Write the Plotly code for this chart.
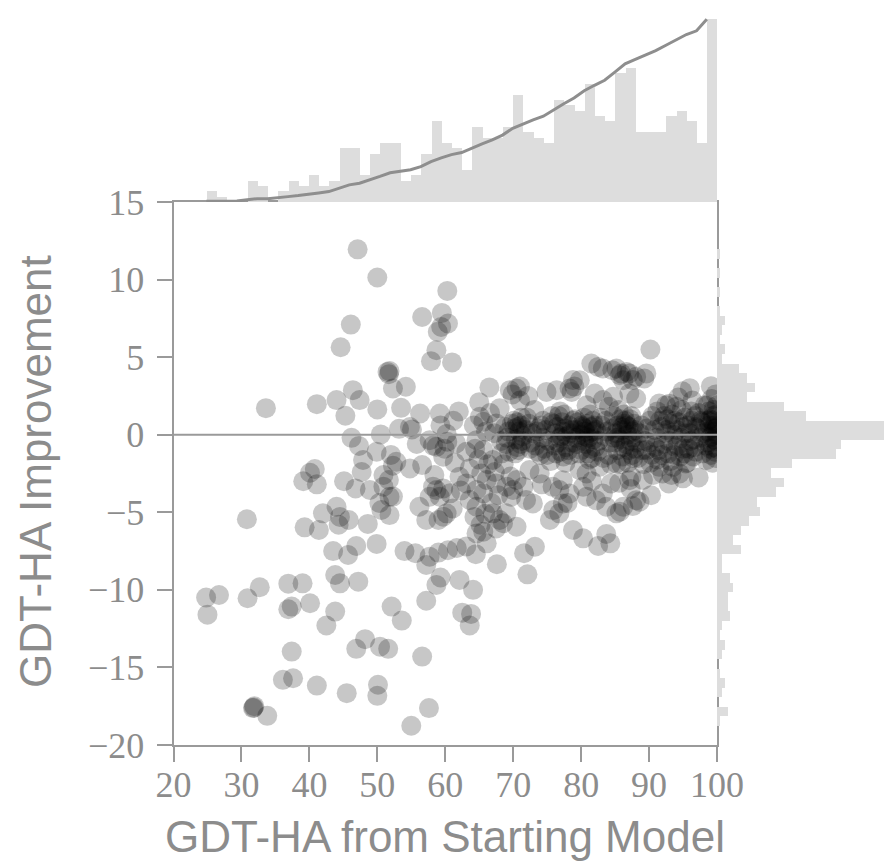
import plotly.graph_objects as go

# ---------------- data ----------------
# (GDT-HA of starting model, GDT-HA improvement)
points_low = [
    (33.6, 1.71), (41.1, 1.97), (40.8, -2.21), (40.1, -2.45), (39.1, -3.0), (41.1, -3.2),
    (30.8, -5.45), (42.0, -5.07), (39.3, -5.97), (41.4, -6.14), (36.9, -9.6), (39.0, -9.58),
    (32.7, -9.83), (30.9, -10.54), (26.7, -10.33), (24.8, -10.5), (25.0, -11.6), (36.9, -11.25),
    (37.4, -11.08), (40.1, -10.86), (42.5, -12.3), (37.4, -13.98), (36.1, -15.8), (37.6, -15.7),
    (41.1, -16.17), (31.8, -17.58), (31.9, -17.5), (31.7, -17.62), (33.8, -18.12),
]
points_mid = [
    (47.1, 11.95), (50.0, 10.13), (46.1, 7.1), (44.6, 5.64), (51.5, 4.05), (51.7, 3.9), (51.8, 4.1),
    (46.4, 2.87), (44.0, 2.23), (47.4, 2.23), (45.3, 1.22), (50.0, 1.63), (50.5, 0.02), (46.2, -0.2),
    (47.3, -0.72), (49.9, -1.1), (47.9, -1.63), (47.7, -2.4), (45.1, -3.0), (46.8, -3.46),
    (48.9, -3.56), (50.9, -3.35), (50.9, -2.6), (51.7, -2.92), (50.3, -4.4), (50.6, -4.85),
    (51.8, -5.18), (44.0, -4.64), (44.5, -5.3), (44.3, -5.8), (45.8, -5.5), (48.6, -5.75),
    (43.5, -7.5), (45.7, -7.75), (46.9, -7.17), (49.9, -7.04), (43.8, -9.04), (44.5, -9.58),
    (47.2, -9.47), (43.8, -11.4), (48.2, -13.18), (46.9, -13.8), (50.4, -13.66), (51.6, -13.8),
    (45.5, -16.66), (50.1, -16.12), (50.0, -16.83), (51.8, -4.0),
    (52.0, -1.3), (52.8, -1.75), (52.3, -2.0), (52.3, 2.98), (54.2, 3.09), (53.5, 1.73),
    (53.2, 0.38), (55.1, 0.34), (52.1, -11.08), (53.6, -11.98), (52.3, -3.99), (56.6, 7.59),
    (59.5, 7.85), (60.3, 9.27), (58.9, 6.63), (59.4, 6.95), (60.4, 7.17), (58.7, 5.45),
    (57.9, 4.74), (56.3, 1.37), (59.2, 1.37), (54.8, 0.5), (55.8, -0.6), (57.7, -0.35),
    (58.7, -0.78), (60.2, 0.05), (59.9, -0.9), (54.8, -2.17), (56.6, -1.96), (59.7, -1.42),
    (58.2, -3.35), (59.7, -3.46), (59.2, -4.0), (57.7, -4.0), (56.2, -4.64), (57.2, -5.5),
    (59.7, -5.28), (60.2, -5.07), (54.0, -7.5), (55.6, -7.64), (57.7, -7.86), (57.2, -8.4),
    (59.0, -7.6), (60.4, -7.45), (57.2, -10.7), (58.7, -9.68), (59.3, -9.2), (56.6, -14.3),
    (57.6, -17.62), (55.0, -18.76), (58.7, -3.57), (60.7, -3.78), (60.3, -0.45), (58.2, -0.7),
    (59.0, -5.5), (58.4, -2.6), (59.3, 0.6),
]
points_high = [
    (61.0, 4.66), (61.2, 0.9), (61.6, -0.56), (62.1, -2.71), (61.1, -4.75), (61.7, -7.3),
    (62.1, -9.36), (61.4, -1.8), (62.0, 1.5), (62.3, -3.6),
    (63.1, -1.1), (63.6, -2.17), (63.1, -3.14), (63.6, -4.21), (62.5, -11.47), (63.8, -11.55),
    (63.6, -12.3), (63.1, -7.2),
    (65.1, 1.16), (64.6, -0.35), (64.6, -3.56), (64.6, -4.64), (64.6, -6.36), (64.1, -10.0),
    (64.5, -7.7), (64.2, 0.6), (64.9, -1.6), (65.3, -2.5), (64.3, -5.3), (65.0, 2.1),
    (64.4, -0.9), (65.2, -5.8),
    (65.6, 0.83), (66.5, 3.05), (65.6, -0.99), (66.1, -2.92), (65.6, -3.78), (65.6, -6.25),
    (66.1, -7.0), (66.3, -1.9), (66.0, 0.2), (66.8, -4.4), (65.9, -5.1), (66.6, 1.4),
    (67.5, 0.73), (67.0, -1.63), (67.5, -3.14), (67.0, -5.07), (68.0, -5.5), (67.5, -6.04),
    (67.6, -8.35), (68.2, -0.4), (67.3, -2.4), (68.0, 1.7), (67.8, -3.9), (68.3, -1.2), (67.2, 0.1),
    (69.5, 2.87), (69.7, -4.0), (69.0, -3.35), (69.0, -5.07), (68.5, -5.71), (69.1, -0.2),
    (68.8, 0.5), (69.4, -1.1), (68.6, -1.9), (69.8, 0.7), (69.3, 0.2), (68.9, -0.6),
    (69.6, -2.7), (69.9, 2.6),
    (70.5, 2.98), (70.0, -3.56), (70.5, -2.92), (70.5, -5.93), (71.0, 3.1), (71.0, 2.2),
    (70.2, 0.4), (70.6, 0.8), (70.9, 0.2), (71.2, 0.6), (70.4, -0.3), (71.1, -0.6), (70.7, 0.5),
    (70.3, -1.2), (71.3, -0.4), (70.8, -1.0), (71.2, 1.1), (70.1, 0.9), (71.4, -0.1), (70.6, -0.8),
    (71.5, -3.35), (71.9, -4.21), (72.1, -9.0), (71.6, -7.64), (72.4, -2.28), (72.9, -4.43),
    (71.8, 0.3), (72.3, 0.7), (72.6, -0.5), (72.0, 1.1), (72.8, 0.1), (72.5, -0.9), (72.2, 2.5),
    (73.2, -7.22), (73.9, -2.5), (73.5, 0.2), (74.1, 0.6), (73.3, -0.7), (74.0, -1.3),
    (73.7, 0.4), (74.3, -0.2), (73.1, 1.6), (74.2, -3.2), (73.6, -1.1), (74.4, 0.9),
    (74.9, 2.76), (75.4, -5.5), (75.9, -4.86), (75.8, -3.36), (74.8, 0.3), (75.2, -0.4),
    (75.6, 0.8), (75.0, -1.3), (75.5, -1.7), (74.6, -0.9), (75.7, 1.2),
    (76.4, 2.87), (76.8, -3.57), (77.3, -2.93), (77.3, -4.43), (76.8, -5.07), (76.2, 0.1),
    (76.5, 0.5), (76.9, -0.2), (77.2, 0.8), (76.1, -0.7), (76.7, 1.2), (77.0, -1.1), (77.4, 0.2),
    (76.3, -1.2), (76.9, 1.5), (77.1, -0.1), (76.6, -0.5), (77.4, -1.4), (76.0, 0.7),
    (78.8, 3.52), (78.6, 2.76), (78.3, 2.98), (78.3, -3.79), (78.8, -6.14), (77.6, 0.4),
    (77.9, -0.1), (78.2, 0.6), (78.5, 0.1), (78.9, 0.9), (77.8, -0.8), (78.4, -1.3), (78.7, -0.5),
    (77.5, 1.3), (78.1, -1.0), (78.6, 0.3), (77.7, -1.8), (78.0, -4.4),
    (79.8, 3.51), (79.0, 3.1), (79.8, -2.28), (80.3, -3.36), (80.3, -6.68), (79.2, 0.3),
    (79.5, 0.8), (79.9, 0.0), (80.2, 0.5), (79.4, -0.6), (80.0, -1.0), (79.1, 1.0), (80.4, 1.1),
    (79.6, -1.2), (80.1, 0.6), (79.3, -0.2), (80.4, -0.4),
    (81.5, 4.59), (80.8, -4.0), (80.8, -2.5), (81.6, -3.0), (80.6, 0.2), (80.9, 0.7), (81.2, 0.1),
    (81.5, 0.5), (81.8, -0.3), (80.7, -0.6), (81.0, -1.2), (81.3, 1.3), (81.7, 0.9), (80.5, 0.4),
    (81.1, -0.2), (81.4, -0.9), (81.9, 0.6), (80.8, 1.9), (81.6, -1.5), (81.2, -1.6), (80.6, -0.1),
    (81.9, 0.2),
    (82.5, 4.37), (83.2, 4.27), (82.0, 2.66), (83.2, 2.23), (82.5, -7.17), (83.2, -3.79),
    (82.2, -4.22), (82.7, -2.07), (82.2, 0.3), (82.6, -0.4), (83.0, 0.6), (83.4, -0.1),
    (82.4, -1.1), (82.9, 1.1), (83.3, -1.5), (82.1, -0.8),
    (84.1, 1.8), (84.7, 2.44), (84.6, 4.16), (83.7, -4.64), (84.4, -3.14), (84.3, -7.0),
    (83.7, -6.4), (83.8, 0.2), (84.2, -0.5), (84.6, 0.4), (84.0, -1.3), (84.9, -0.2), (83.6, 0.9),
    (84.4, -1.9), (84.8, 1.2),
    (85.2, 4.27), (85.7, 3.84), (86.2, 3.51), (85.9, 3.95), (85.2, -1.85), (86.2, -4.64),
    (85.2, -5.07), (85.7, -4.96), (85.1, 0.1), (85.4, 0.6), (85.7, -0.3), (86.0, 0.3),
    (86.3, -0.8), (85.3, -1.0), (85.8, 1.0), (86.1, -1.4), (85.5, 1.6), (86.4, 0.7), (85.0, -0.5),
    (85.9, -1.9), (86.3, 1.3), (85.6, -3.1), (86.0, 0.5), (85.4, -0.2),
    (86.7, 4.05), (87.1, 3.95), (87.6, 3.52), (87.1, 2.66), (87.1, -2.93), (87.4, -2.71),
    (87.6, -4.6), (86.8, 0.0), (87.0, 0.5), (87.3, -0.4), (87.6, 0.2), (87.9, -0.9), (86.6, -0.6),
    (87.2, 1.0), (87.5, -1.3), (87.8, 0.7), (86.9, -1.8), (87.4, 1.2), (87.7, -1.5), (86.5, 0.9),
    (87.0, -1.0), (87.9, 0.3), (86.7, 0.6), (87.3, -3.5), (87.6, -0.2),
    (88.1, 3.73), (89.3, 3.62), (88.1, 2.33), (89.1, -2.92), (88.6, -4.32), (88.1, -4.22),
    (88.2, -0.5), (88.6, 0.1), (89.0, -1.0), (89.4, -0.4), (88.4, -1.5), (88.9, 0.6), (89.2, -1.9),
    (89.6, 3.95), (90.2, 5.49), (90.5, 1.2), (90.3, -3.9), (90.6, -2.6), (90.1, 0.9),
    (89.6, -0.99), (90.0, -0.5), (90.4, -1.3), (90.8, 0.3), (89.7, 0.4), (90.2, -1.8), (90.9, -0.8),
    (91.5, 2.01), (91.2, 1.5), (91.5, -2.07), (91.1, -0.2), (91.4, -1.0), (91.8, 0.5), (92.1, -0.6),
    (92.4, 0.1), (91.2, -1.6), (91.9, -1.3), (92.2, 1.2), (91.6, 0.9), (92.0, -2.5),
    (92.5, 1.9), (93.0, 2.0), (92.9, -3.14), (93.5, -2.07), (92.6, 0.3), (92.9, -0.4), (93.2, 0.7),
    (93.6, 0.0), (93.9, -0.8), (92.8, -1.2), (93.4, 1.3), (93.1, -1.7), (93.8, 0.9), (92.7, 1.0),
    (93.7, -1.3), (93.3, -2.6),
    (94.0, 1.8), (94.5, -2.5), (95.0, -2.81), (95.4, -1.85), (94.1, 0.3), (94.4, 0.8), (94.7, -0.2),
    (95.0, 0.5), (95.3, 1.1), (94.2, -0.7), (94.8, 1.6), (95.1, -0.9), (94.6, -1.4), (95.4, 0.1),
    (94.3, 2.4), (94.9, 2.8), (95.2, -1.2),
    (96.0, 3.0), (95.7, 0.6), (96.0, 0.1), (96.3, 0.9), (96.6, -0.3), (96.9, 0.5), (95.8, -0.9),
    (96.2, 1.5), (96.5, -1.4), (96.8, 1.2), (95.6, -1.8), (96.4, 2.2), (96.7, -0.8), (96.1, -0.4),
    (96.9, -1.1),
    (97.3, -2.75), (97.1, 0.4), (97.5, -0.2), (97.8, 0.8), (98.1, 0.1), (98.4, -0.7), (97.3, 1.4),
    (97.9, -1.2), (98.2, 1.9), (97.6, 0.9), (98.4, -1.64),
    (98.6, 0.2), (98.9, 0.6), (99.2, -0.1), (99.5, 0.4), (99.8, 0.8), (100.0, 0.0), (98.7, -0.5),
    (99.0, 1.0), (99.3, 0.9), (99.6, -0.3), (99.9, 1.3), (98.8, 1.5), (99.4, -0.8), (99.7, 0.2),
    (100.0, -0.9), (99.1, -1.3), (98.6, 1.9), (99.5, 1.6), (99.8, -1.5), (99.2, 2.3), (100.0, 1.9),
    (98.9, -0.2), (99.6, 0.6), (99.3, -1.8), (99.9, 0.4), (98.7, 0.9), (99.4, 1.2), (100.0, 0.5),
    (99.0, -0.9), (99.7, -1.1), (99.9, -0.4), (99.1, 3.13), (99.8, 2.6),
]

# marginal histogram counts (50 bins each)
start_hist_counts = [2, 1, 0, 0, 4, 3, 0, 2, 4, 3, 5, 3, 4, 10, 10, 5, 9, 11, 11, 4,
                     5, 9, 15, 11, 10, 6, 14, 12, 12, 14, 20, 13, 12, 11, 19, 18, 17, 22, 16, 15,
                     24, 25, 13, 13, 13, 16, 17, 15, 11, 34]
start_hist_range = (24.83, 100.0)
improve_hist_counts = [1, 4, 0, 2, 3, 1, 0, 2, 3, 1, 2, 5, 4, 4, 6, 5, 2, 2, 9, 6,
                       9, 12, 16, 15, 22, 25, 20, 28, 44, 46, 62, 62, 33, 25, 11, 14, 11, 8, 2, 3,
                       1, 2, 3, 1, 0, 1, 0, 1, 0, 1]
improve_hist_range = (-18.76, 11.96)

x_ticks = [20, 30, 40, 50, 60, 70, 80, 90, 100]
y_ticks = [-20, -15, -10, -5, 0, 5, 10, 15]

# ---------------- figure ----------------
all_points = points_low + points_mid + points_high
xs = [p[0] for p in all_points]
ys = [p[1] for p in all_points]

W, H = 884, 861
main_x_dom = [173.5 / W, 717 / W]
right_x_dom = [717 / W, 1.0]
main_y_dom = [1 - 745 / H, 1 - 202 / H]
top_y_dom = [1 - 202 / H, 1 - 14 / H]

GRAY_TXT = "#8c8c8c"
GRAY_LINE = "#9a9a9a"
BAR = "#dddddd"

nx = len(start_hist_counts)
bw = (start_hist_range[1] - start_hist_range[0]) / nx
x_centers = [start_hist_range[0] + (i + 0.5) * bw for i in range(nx)]
x_left = [start_hist_range[0] + i * bw for i in range(nx)]
total = sum(start_hist_counts)
cum = []
s = 0
for c in start_hist_counts:
    s += c
    cum.append(s / total * max(start_hist_counts))

ny = len(improve_hist_counts)
bh = (improve_hist_range[1] - improve_hist_range[0]) / ny
y_centers = [improve_hist_range[0] + (i + 0.5) * bh for i in range(ny)]

fig = go.Figure()
fig.add_trace(go.Scatter(
    x=xs, y=ys, mode="markers", xaxis="x", yaxis="y",
    marker=dict(size=20, color="rgba(0,0,0,0.22)", line=dict(width=0)),
    showlegend=False, hoverinfo="skip"))
fig.add_trace(go.Bar(
    x=x_centers, y=start_hist_counts, width=bw, xaxis="x2", yaxis="y2",
    marker=dict(color=BAR, line=dict(width=0)), showlegend=False))
fig.add_trace(go.Scatter(
    x=x_left, y=cum, mode="lines", xaxis="x2", yaxis="y2",
    line=dict(color="#8e8e8e", width=3), showlegend=False))
fig.add_trace(go.Bar(
    y=y_centers, x=improve_hist_counts, width=bh, orientation="h", xaxis="x3", yaxis="y3",
    marker=dict(color=BAR, line=dict(width=0)), showlegend=False))

tickfont = dict(family="Liberation Serif", size=36, color=GRAY_TXT)
fig.update_layout(
    width=W, height=H, autosize=False,
    margin=dict(l=0, r=0, t=0, b=0, pad=0, autoexpand=False),
    paper_bgcolor="white", plot_bgcolor="white", bargap=0,
    xaxis=dict(domain=main_x_dom, range=[20, 100], tickvals=x_ticks, ticks="outside",
               ticklen=15, tickwidth=2, tickcolor=GRAY_LINE, showline=True, linecolor=GRAY_LINE,
               linewidth=2, mirror=True, showgrid=False, zeroline=False, tickfont=tickfont,
               anchor="y", automargin=False, ticklabelstandoff=-8),
    yaxis=dict(domain=main_y_dom, range=[-20, 15], tickvals=y_ticks, ticks="outside",
               ticklen=15, tickwidth=2, tickcolor=GRAY_LINE, showline=True, linecolor=GRAY_LINE,
               linewidth=2, mirror=True, showgrid=False, zeroline=False, tickfont=tickfont,
               anchor="x", automargin=False, ticklabelstandoff=5),
    xaxis2=dict(domain=main_x_dom, range=[20, 100], visible=False, anchor="y2", automargin=False),
    yaxis2=dict(domain=top_y_dom, range=[0, 35], visible=False, anchor="x2", automargin=False),
    xaxis3=dict(domain=right_x_dom, range=[0, 62], visible=False, anchor="y3", automargin=False),
    yaxis3=dict(domain=main_y_dom, range=[-20, 15], visible=False, anchor="x3", automargin=False),
    shapes=[dict(type="line", xref="x domain", yref="y", x0=0, x1=1, y0=0, y1=0,
                 line=dict(color=GRAY_LINE, width=2), layer="above")],
    annotations=[
        dict(text="GDT-HA Improvement", x=35 / W, y=1 - 472 / H, xref="paper", yref="paper",
             textangle=-90, showarrow=False, xanchor="center", yanchor="middle",
             font=dict(family="Liberation Sans", size=44, color=GRAY_TXT)),
        dict(text="GDT-HA from Starting Model", x=445 / W, y=1 - 836 / H, xref="paper",
             yref="paper", showarrow=False, xanchor="center", yanchor="middle",
             font=dict(family="Liberation Sans", size=44, color=GRAY_TXT)),
    ],
)

fig.write_html("out.html")
